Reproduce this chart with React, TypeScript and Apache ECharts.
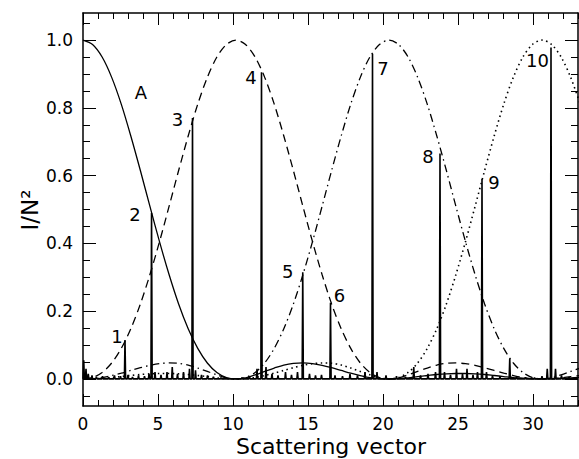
import React, { useEffect, useRef } from "react";
import * as echarts from "echarts";

// Shared sampling grid of the four envelope curves (scattering vector)
const envX: number[] = Array.from({ length: 53 }, (_, j) => +(j * 0.6375).toFixed(4));

// Envelope curves (values of I/N^2 at envX)
const curveA = [1.000, 0.987, 0.950, 0.890, 0.811, 0.717, 0.615, 0.509, 0.405, 0.308, 0.221, 0.148, 0.090, 0.047, 0.019, 0.004, 0.000, 0.003, 0.012, 0.022, 0.032, 0.041, 0.046, 0.047, 0.045, 0.040, 0.033, 0.025, 0.017, 0.010, 0.004, 0.001, 0.000, 0.001, 0.003, 0.007, 0.010, 0.013, 0.015, 0.016, 0.016, 0.015, 0.013, 0.010, 0.007, 0.004, 0.002, 0.000, 0.000, 0.000, 0.002, 0.003, 0.005];
const curveDashed = [0.000, 0.004, 0.019, 0.047, 0.090, 0.148, 0.221, 0.308, 0.405, 0.509, 0.615, 0.717, 0.811, 0.890, 0.950, 0.987, 1.000, 0.987, 0.950, 0.890, 0.811, 0.717, 0.615, 0.509, 0.405, 0.308, 0.221, 0.148, 0.090, 0.047, 0.019, 0.004, 0.000, 0.003, 0.012, 0.022, 0.032, 0.041, 0.046, 0.047, 0.045, 0.040, 0.033, 0.025, 0.017, 0.010, 0.004, 0.001, 0.000, 0.001, 0.003, 0.007, 0.010];
const curveDashDot = [0.000, 0.001, 0.004, 0.010, 0.017, 0.025, 0.033, 0.040, 0.045, 0.047, 0.046, 0.041, 0.032, 0.022, 0.012, 0.003, 0.000, 0.004, 0.019, 0.047, 0.090, 0.148, 0.221, 0.308, 0.405, 0.509, 0.615, 0.717, 0.811, 0.890, 0.950, 0.987, 1.000, 0.987, 0.950, 0.890, 0.811, 0.717, 0.615, 0.509, 0.405, 0.308, 0.221, 0.148, 0.090, 0.047, 0.019, 0.004, 0.000, 0.003, 0.012, 0.022, 0.032];
const curveDotted = [0.000, 0.000, 0.002, 0.004, 0.007, 0.010, 0.013, 0.015, 0.016, 0.016, 0.015, 0.013, 0.010, 0.007, 0.003, 0.001, 0.000, 0.001, 0.004, 0.010, 0.017, 0.025, 0.033, 0.040, 0.045, 0.047, 0.046, 0.041, 0.032, 0.022, 0.012, 0.003, 0.000, 0.004, 0.019, 0.047, 0.090, 0.148, 0.221, 0.308, 0.405, 0.509, 0.615, 0.717, 0.811, 0.890, 0.950, 0.987, 1.000, 0.987, 0.950, 0.890, 0.811];

// Main spectral peaks
const peakX = [2.8, 4.57, 7.3, 11.9, 14.65, 16.5, 19.3, 23.8, 26.6, 31.2];
const peakY = [0.115, 0.49, 0.77, 0.905, 0.315, 0.225, 0.96, 0.665, 0.59, 0.978];
const peakNames = ["1", "2", "3", "4", "5", "6", "7", "8", "9", "10"];
// Label positions of the peak numbers
const peakLabelX = [2.26, 3.46, 6.3, 11.2, 13.65, 17.1, 20.0, 23.0, 27.4, 30.3];
const peakLabelY = [0.125, 0.485, 0.765, 0.89, 0.318, 0.247, 0.915, 0.655, 0.58, 0.94];
const curveLabel = { name: "A", x: 3.86, y: 0.845 };

// Small noise spikes along the baseline
const noiseX = [0.05, 0.2, 0.35, 0.6, 0.9, 1.3, 1.7, 2.1, 2.5, 3.0, 3.3, 3.7, 4.1, 4.4, 4.8, 5.2, 5.6, 5.95, 6.3, 6.7, 7.1, 7.5, 7.9, 8.3, 8.7, 9.2, 10.6, 11.1, 11.6, 12.2, 12.6, 13.0, 13.5, 13.9, 14.3, 15.1, 15.5, 15.9, 16.8, 17.3, 17.8, 18.3, 18.8, 19.6, 20.2, 20.9, 21.5, 22.05, 22.5, 23.0, 23.5, 24.1, 24.5, 24.9, 25.3, 25.6, 26.0, 26.3, 26.9, 27.3, 27.8, 28.45, 28.9, 29.5, 30.1, 30.6, 30.95, 31.5, 31.9, 32.4, 32.8];
const noiseY = [0.055, 0.03, 0.015, 0.01, 0.006, 0.008, 0.005, 0.01, 0.008, 0.012, 0.006, 0.01, 0.008, 0.015, 0.02, 0.012, 0.02, 0.035, 0.015, 0.02, 0.03, 0.025, 0.012, 0.01, 0.006, 0.004, 0.004, 0.008, 0.03, 0.035, 0.015, 0.01, 0.02, 0.012, 0.02, 0.015, 0.01, 0.012, 0.01, 0.008, 0.015, 0.01, 0.02, 0.02, 0.01, 0.008, 0.006, 0.035, 0.01, 0.015, 0.02, 0.02, 0.012, 0.03, 0.015, 0.03, 0.012, 0.02, 0.02, 0.01, 0.008, 0.06, 0.006, 0.005, 0.004, 0.008, 0.03, 0.03, 0.01, 0.006, 0.004];

// Axis ticks
const xMin = 0;
const xMax = 33;
const yMin = -0.08;
const yMax = 1.08;
const xMajorTicks = [0, 5, 10, 15, 20, 25, 30];
const xMinorTicks = Array.from({ length: 34 }, (_, i) => i);
const yMajorTicks = [0, 0.2, 0.4, 0.6, 0.8, 1.0];
const yMinorTicks = [-0.05, 0, 0.05, 0.1, 0.15, 0.2, 0.25, 0.3, 0.35, 0.4, 0.45, 0.5, 0.55, 0.6, 0.65, 0.7, 0.75, 0.8, 0.85, 0.9, 0.95, 1.0, 1.05];

const FONT = "DejaVu Sans";

export default function App() {
  const ref = useRef<HTMLDivElement>(null);

  useEffect(() => {
    if (!ref.current) return;
    const chart = echarts.init(ref.current, undefined, { renderer: "svg" });

    const pair = (ys: number[]) => envX.map((x, i) => [x, ys[i]]);

    // spectrum: baseline with spikes
    const spikes: [number, number][] = [];
    peakX.forEach((x, i) => spikes.push([x, peakY[i]]));
    noiseX.forEach((x, i) => spikes.push([x, noiseY[i]]));
    spikes.sort((a, b) => a[0] - b[0]);
    const spectrum: number[][] = [[xMin, 0]];
    spikes.forEach(([x, h]) => {
      spectrum.push([x - 0.04, 0], [x, h], [x + 0.04, 0]);
    });
    spectrum.push([xMax, 0]);

    const axisLineStyle = { color: "#000", width: 1.5 };
    const tickStyle = { color: "#000", width: 1 };

    const xAxisBase = (position: "bottom" | "top", ticks: number[], len: number, showLine: boolean, showLabel: boolean) => ({
      type: "value",
      min: xMin,
      max: xMax,
      position,
      axisLine: { show: showLine, onZero: false, lineStyle: axisLineStyle },
      axisTick: { show: true, inside: true, length: len, customValues: ticks, lineStyle: tickStyle },
      axisLabel: {
        show: showLabel,
        customValues: xMajorTicks,
        fontFamily: FONT,
        fontSize: 17,
        color: "#000",
        margin: 9,
      },
      splitLine: { show: false },
    });
    const yAxisBase = (position: "left" | "right", ticks: number[], len: number, showLine: boolean, showLabel: boolean) => ({
      type: "value",
      min: yMin,
      max: yMax,
      position,
      axisLine: { show: showLine, onZero: false, lineStyle: axisLineStyle },
      axisTick: { show: true, inside: true, length: len, customValues: ticks, lineStyle: tickStyle },
      axisLabel: {
        show: showLabel,
        customValues: yMajorTicks,
        formatter: (v: number) => v.toFixed(1),
        fontFamily: FONT,
        fontSize: 17,
        color: "#000",
        margin: 10,
      },
      splitLine: { show: false },
    });

    const labelData = [
      { name: curveLabel.name, value: [curveLabel.x, curveLabel.y] },
      ...peakNames.map((n, i) => ({ name: n, value: [peakLabelX[i], peakLabelY[i]] })),
    ];

    chart.setOption({
      animation: false,
      backgroundColor: "#fff",
      grid: { left: 83, right: 1, top: 13, bottom: 53, containLabel: false },
      xAxis: [
        xAxisBase("bottom", xMinorTicks, 6, true, true),
        xAxisBase("bottom", xMajorTicks, 12, false, false),
        xAxisBase("top", xMinorTicks, 6, true, false),
        xAxisBase("top", xMajorTicks, 12, false, false),
      ],
      yAxis: [
        yAxisBase("left", yMinorTicks, 7, true, true),
        yAxisBase("left", yMajorTicks, 13, false, false),
        yAxisBase("right", yMinorTicks, 7, true, false),
        yAxisBase("right", yMajorTicks, 13, false, false),
      ],
      series: [
        {
          type: "line",
          data: pair(curveA),
          smooth: 0.3,
          symbol: "none",
          lineStyle: { color: "#000", width: 1.3, type: "solid" },
          z: 3,
        },
        {
          type: "line",
          data: pair(curveDashed),
          smooth: 0.3,
          symbol: "none",
          lineStyle: { color: "#000", width: 1.3, type: [8, 5] },
          z: 3,
        },
        {
          type: "line",
          data: pair(curveDashDot),
          smooth: 0.3,
          symbol: "none",
          lineStyle: { color: "#000", width: 1.3, type: [8, 4, 1.5, 4] },
          z: 3,
        },
        {
          type: "line",
          data: pair(curveDotted),
          smooth: 0.3,
          symbol: "none",
          lineStyle: { color: "#000", width: 1.6, type: [1.5, 3.5] },
          z: 3,
        },
        {
          type: "line",
          data: spectrum,
          symbol: "none",
          lineStyle: { color: "#000", width: 1.6 },
          z: 4,
        },
        {
          type: "scatter",
          data: labelData,
          symbolSize: 0,
          silent: true,
          itemStyle: { color: "#000", opacity: 1 },
          label: {
            show: true,
            position: "inside",
            formatter: (p: any) => p.name,
            fontFamily: FONT,
            fontSize: 18,
            color: "#000",
            opacity: 1,
            textBorderWidth: 0,
          },
          emphasis: { disabled: true },
          z: 5,
        },
      ],
      graphic: [
        {
          type: "text",
          x: 331,
          y: 446,
          style: {
            text: "Scattering vector",
            fontFamily: FONT,
            fontSize: 22,
            fill: "#000",
            textAlign: "center",
            textVerticalAlign: "middle",
          },
        },
        {
          type: "text",
          x: 30,
          y: 210,
          rotation: Math.PI / 2,
          style: {
            text: "I/N²",
            fontFamily: FONT,
            fontSize: 23,
            fill: "#000",
            textAlign: "center",
            textVerticalAlign: "middle",
          },
        },
      ],
    });

    return () => chart.dispose();
  }, []);

  return (
    <div
      ref={ref}
      style={{ position: "fixed", left: 0, top: 0, width: 579, height: 459 }}
    />
  );
}
